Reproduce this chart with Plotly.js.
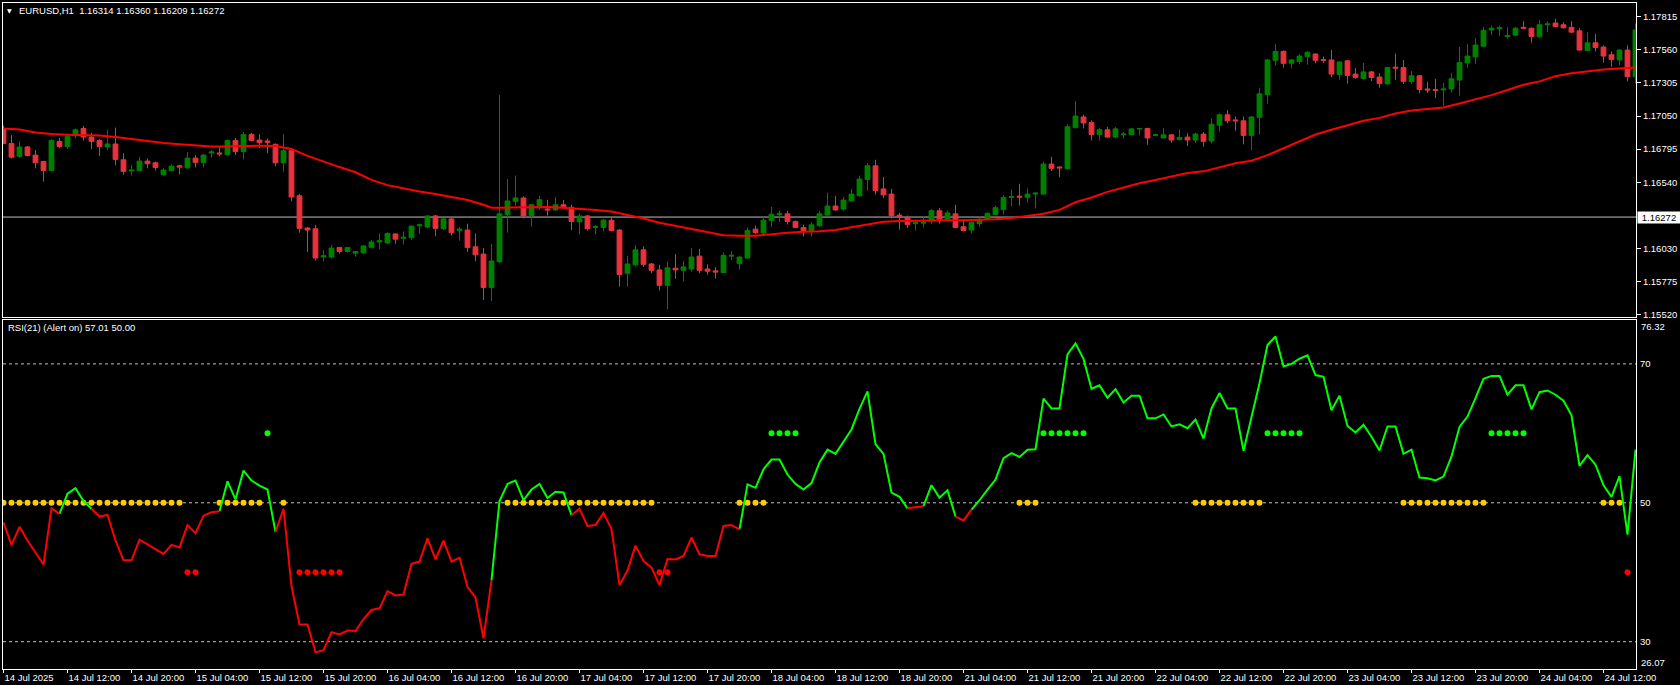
<!DOCTYPE html>
<html><head><meta charset="utf-8">
<script src="https://cdn.plot.ly/plotly-3.0.1.min.js"></script>
<style>html,body{margin:0;padding:0;background:#000;overflow:hidden}#chart{width:1680px;height:685px}</style>
</head><body><div id="chart"></div>
<script>
// ---- data (EURUSD H1, bar 0 = 14 Jul 2025 04:00) ----
const openP = [1.16954,1.16839,1.16740,1.16812,1.16749,1.16700,1.16631,1.16855,1.16815,1.16905,
1.16954,1.16888,1.16862,1.16812,1.16835,1.16713,1.16627,1.16631,1.16703,1.16690,
1.16598,1.16631,1.16667,1.16651,1.16726,1.16693,1.16766,1.16766,1.16753,1.16862,
1.16776,1.16908,1.16865,1.16858,1.16832,1.16690,1.16783,1.16436,1.16188,1.16182,
1.15964,1.15964,1.16037,1.16007,1.15994,1.15997,1.16040,1.16080,1.16073,1.16142,
1.16109,1.16113,1.16205,1.16195,1.16281,1.16182,1.16258,1.16169,1.16172,1.16043,
1.15987,1.15730,1.15928,1.16291,1.16393,1.16419,1.16284,1.16360,1.16334,1.16327,
1.16367,1.16347,1.16235,1.16281,1.16192,1.16192,1.16248,1.16172,1.15839,1.15904,
1.16020,1.15911,1.15865,1.15746,1.15878,1.15862,1.15872,1.15971,1.15872,1.15858,
1.15845,1.15971,1.15914,1.15957,1.16179,1.16149,1.16245,1.16291,1.16297,1.16238,
1.16192,1.16169,1.16205,1.16287,1.16357,1.16334,1.16396,1.16436,1.16561,1.16667,
1.16489,1.16449,1.16287,1.16271,1.16221,1.16225,1.16248,1.16321,1.16258,1.16297,
1.16198,1.16172,1.16221,1.16255,1.16291,1.16330,1.16423,1.16433,1.16423,1.16449,
1.16449,1.16680,1.16657,1.16644,1.16961,1.17043,1.17000,1.16908,1.16944,1.16888,
1.16905,1.16908,1.16951,1.16954,1.16901,1.16881,1.16905,1.16868,1.16888,1.16865,
1.16911,1.16858,1.16980,1.17060,1.17020,1.17013,1.16901,1.17040,1.17215,1.17479,
1.17548,1.17456,1.17469,1.17508,1.17528,1.17485,1.17482,1.17370,1.17475,1.17373,
1.17340,1.17390,1.17350,1.17297,1.17426,1.17423,1.17314,1.17360,1.17258,1.17254,
1.17251,1.17258,1.17327,1.17459,1.17505,1.17588,1.17713,1.17723,1.17663,1.17673,
1.17733,1.17726,1.17660,1.17753,1.17766,1.17753,1.17733,1.17706,1.17555,1.17614,
1.17581,1.17522,1.17482,1.17558,1.17353];
const highP = [1.16977,1.16905,1.16855,1.16819,1.16789,1.16706,1.16872,1.16881,1.16914,1.16954,
1.16974,1.16921,1.16872,1.16944,1.16961,1.16763,1.16674,1.16736,1.16723,1.16700,
1.16651,1.16680,1.16674,1.16773,1.16749,1.16756,1.16789,1.16812,1.16868,1.16881,
1.16927,1.16921,1.16911,1.16878,1.16839,1.16911,1.16796,1.16449,1.16195,1.16212,
1.16020,1.16056,1.16043,1.16043,1.16010,1.16056,1.16096,1.16146,1.16155,1.16146,
1.16162,1.16208,1.16215,1.16284,1.16287,1.16264,1.16264,1.16195,1.16221,1.16146,
1.16033,1.16066,1.17211,1.16565,1.16591,1.16433,1.16373,1.16436,1.16406,1.16426,
1.16403,1.16367,1.16301,1.16287,1.16212,1.16258,1.16274,1.16179,1.15974,1.16056,
1.16047,1.15918,1.15904,1.15931,1.15987,1.15934,1.16033,1.16027,1.15908,1.15885,
1.16000,1.16010,1.15974,1.16192,1.16205,1.16274,1.16350,1.16321,1.16321,1.16245,
1.16215,1.16231,1.16321,1.16459,1.16436,1.16426,1.16489,1.16591,1.16687,1.16713,
1.16581,1.16489,1.16304,1.16284,1.16245,1.16278,1.16334,1.16340,1.16321,1.16367,
1.16255,1.16238,1.16274,1.16307,1.16360,1.16443,1.16482,1.16528,1.16492,1.16466,
1.16700,1.16736,1.16664,1.16987,1.17165,1.17060,1.17017,1.16961,1.16967,1.16964,
1.16927,1.16957,1.16957,1.16961,1.16914,1.16957,1.16911,1.16947,1.16918,1.16921,
1.16927,1.17033,1.17070,1.17096,1.17046,1.17046,1.17050,1.17268,1.17489,1.17604,
1.17555,1.17489,1.17528,1.17548,1.17531,1.17508,1.17558,1.17472,1.17482,1.17419,
1.17459,1.17396,1.17380,1.17429,1.17531,1.17482,1.17396,1.17366,1.17314,1.17337,
1.17304,1.17383,1.17581,1.17604,1.17650,1.17736,1.17749,1.17746,1.17733,1.17736,
1.17782,1.17733,1.17789,1.17779,1.17799,1.17772,1.17782,1.17726,1.17696,1.17683,
1.17594,1.17548,1.17564,1.17594,1.17763];
const lowP = [1.16832,1.16723,1.16730,1.16740,1.16647,1.16545,1.16624,1.16802,1.16796,1.16878,
1.16862,1.16796,1.16743,1.16789,1.16670,1.16598,1.16591,1.16627,1.16647,1.16631,
1.16591,1.16624,1.16601,1.16644,1.16654,1.16654,1.16730,1.16740,1.16749,1.16749,
1.16716,1.16855,1.16805,1.16763,1.16664,1.16624,1.16393,1.16152,1.16004,1.15938,
1.15931,1.15954,1.15990,1.15997,1.15967,1.15990,1.16030,1.16024,1.16063,1.16066,
1.16060,1.16096,1.16142,1.16185,1.16123,1.16172,1.16129,1.16090,1.16004,1.15931,
1.15634,1.15627,1.15918,1.16152,1.16360,1.16261,1.16198,1.16327,1.16284,1.16321,
1.16334,1.16172,1.16139,1.16169,1.16139,1.16162,1.16162,1.15736,1.15736,1.15891,
1.15888,1.15839,1.15707,1.15561,1.15796,1.15776,1.15852,1.15839,1.15829,1.15799,
1.15839,1.15941,1.15868,1.15951,1.16142,1.16142,1.16195,1.16238,1.16215,1.16188,
1.16123,1.16123,1.16195,1.16284,1.16321,1.16321,1.16393,1.16429,1.16476,1.16446,
1.16419,1.16261,1.16175,1.16188,1.16169,1.16192,1.16221,1.16221,1.16248,1.16185,
1.16162,1.16146,1.16195,1.16251,1.16287,1.16291,1.16354,1.16360,1.16383,1.16337,
1.16443,1.16627,1.16578,1.16637,1.16954,1.16954,1.16862,1.16862,1.16881,1.16878,
1.16878,1.16905,1.16901,1.16829,1.16895,1.16878,1.16845,1.16862,1.16819,1.16842,
1.16815,1.16839,1.16931,1.16994,1.16937,1.16832,1.16786,1.16908,1.17145,1.17439,
1.17423,1.17416,1.17449,1.17446,1.17456,1.17459,1.17350,1.17330,1.17300,1.17337,
1.17330,1.17320,1.17268,1.17291,1.17330,1.17297,1.17297,1.17225,1.17228,1.17188,
1.17126,1.17231,1.17208,1.17423,1.17452,1.17581,1.17673,1.17667,1.17647,1.17670,
1.17723,1.17614,1.17654,1.17696,1.17736,1.17723,1.17690,1.17555,1.17548,1.17548,
1.17462,1.17429,1.17442,1.17317,1.17300];
const closeP = [1.16839,1.16733,1.16812,1.16746,1.16690,1.16631,1.16862,1.16815,1.16895,1.16944,
1.16888,1.16855,1.16815,1.16835,1.16716,1.16624,1.16634,1.16703,1.16683,1.16654,
1.16634,1.16664,1.16657,1.16726,1.16693,1.16749,1.16773,1.16759,1.16862,1.16776,
1.16908,1.16862,1.16845,1.16848,1.16690,1.16783,1.16426,1.16185,1.16172,1.15957,
1.15974,1.16033,1.16007,1.16037,1.16007,1.16050,1.16080,1.16090,1.16146,1.16102,
1.16116,1.16202,1.16212,1.16281,1.16185,1.16258,1.16152,1.16179,1.16037,1.15981,
1.15730,1.15934,1.16297,1.16396,1.16419,1.16281,1.16367,1.16406,1.16327,1.16367,
1.16347,1.16238,1.16281,1.16182,1.16198,1.16248,1.16169,1.15829,1.15911,1.16020,
1.15908,1.15862,1.15746,1.15881,1.15865,1.15888,1.15964,1.15862,1.15855,1.15849,
1.15977,1.15977,1.15964,1.16169,1.16152,1.16248,1.16294,1.16297,1.16238,1.16192,
1.16165,1.16212,1.16297,1.16357,1.16327,1.16403,1.16449,1.16565,1.16667,1.16476,
1.16443,1.16284,1.16268,1.16215,1.16228,1.16231,1.16321,1.16255,1.16304,1.16192,
1.16169,1.16231,1.16255,1.16301,1.16344,1.16423,1.16429,1.16426,1.16449,1.16456,
1.16680,1.16647,1.16651,1.16967,1.17050,1.16997,1.16908,1.16944,1.16888,1.16951,
1.16911,1.16951,1.16954,1.16881,1.16905,1.16905,1.16865,1.16885,1.16865,1.16911,
1.16855,1.16987,1.17060,1.17013,1.17013,1.16901,1.17043,1.17221,1.17482,1.17548,
1.17456,1.17482,1.17512,1.17541,1.17479,1.17479,1.17373,1.17466,1.17363,1.17347,
1.17390,1.17347,1.17300,1.17423,1.17419,1.17317,1.17360,1.17254,1.17251,1.17248,
1.17258,1.17337,1.17462,1.17512,1.17597,1.17710,1.17726,1.17730,1.17670,1.17726,
1.17726,1.17663,1.17753,1.17759,1.17739,1.17730,1.17696,1.17558,1.17614,1.17578,
1.17512,1.17485,1.17558,1.17353,1.17713];

// moving average (red line), read at these bars
const maBars = [0,2,4,6,8,10,12,14,16,18,20,22,24,26,28,30,32,34,36,38,40,42,44,46,48,50,52,54,56,58,60,61,62,64,66,68,70,72,74,76,78,80,82,84,86,88,90,92,94,96,98,100,102,104,106,108,110,112,114,116,118,120,122,124,126,128,130,132,134,136,138,140,142,144,146,148,150,152,154,156,158,160,162,164,166,168,170,172,174,176,178,180,182,184,186,188,190,192,194,196,198,200,202,204];
const maVals = [1.16954,1.16947,1.16924,1.16911,1.16905,1.16905,1.16901,1.16888,1.16872,1.16855,1.16842,1.16832,1.16822,1.16815,1.16815,1.16819,1.16822,1.16819,1.16796,1.16743,1.16697,1.16657,1.16617,1.16558,1.16518,1.16492,1.16469,1.16449,1.16426,1.16403,1.16367,1.16344,1.16344,1.16347,1.16350,1.16350,1.16344,1.16337,1.16327,1.16314,1.16287,1.16261,1.16228,1.16205,1.16179,1.16155,1.16132,1.16129,1.16129,1.16139,1.16152,1.16159,1.16162,1.16172,1.16192,1.16215,1.16235,1.16241,1.16245,1.16245,1.16248,1.16248,1.16251,1.16255,1.16264,1.16278,1.16297,1.16327,1.16386,1.16423,1.16466,1.16499,1.16532,1.16558,1.16585,1.16611,1.16624,1.16657,1.16687,1.16706,1.16749,1.16802,1.16855,1.16908,1.16944,1.16977,1.17013,1.17036,1.17069,1.17093,1.17106,1.17116,1.17146,1.17178,1.17211,1.17251,1.17291,1.17317,1.17357,1.17380,1.17396,1.17409,1.17416,1.17423];

// RSI(21)
const rsi = [47.16,43.95,46.54,44.57,42.84,41.11,49.20,48.40,51.30,52.10,
50.25,49.14,48.02,48.27,44.57,41.73,41.73,44.69,44.07,43.33,
42.65,43.95,43.58,46.79,45.62,48.15,48.64,48.77,53.09,50.49,
54.63,53.21,52.47,51.91,45.80,49.14,38.02,32.47,32.47,28.46,
28.77,31.36,31.05,31.60,31.54,33.27,34.57,34.81,37.28,36.67,
36.79,41.23,41.54,44.88,41.85,44.57,41.54,42.10,37.90,36.36,
30.49,38.83,50.25,52.72,53.21,50.37,51.91,52.72,50.68,51.60,
51.48,48.21,49.14,46.67,46.79,48.52,46.23,38.15,40.25,43.83,
41.60,40.68,38.15,41.91,41.85,42.35,45.00,42.59,42.35,42.35,
46.67,46.79,46.17,52.65,52.16,54.81,56.23,56.23,54.07,52.72,
51.91,52.84,55.80,57.65,57.04,58.89,60.56,63.52,66.05,58.46,
57.04,51.48,50.86,49.20,49.38,49.51,52.53,50.74,51.79,48.02,
47.47,49.01,50.37,51.91,53.33,56.42,57.16,56.60,57.65,57.72,
65.00,63.58,63.58,71.36,72.96,70.74,66.42,66.91,65.12,66.36,
64.44,65.43,65.43,62.16,62.16,62.72,60.99,61.30,60.74,61.98,
59.26,63.58,65.80,63.58,63.58,57.47,62.28,67.22,72.72,73.95,
69.63,70.00,70.74,71.23,68.40,68.15,63.33,65.43,61.05,60.12,
61.23,59.51,57.53,60.99,60.99,57.04,57.65,53.64,53.52,53.21,
53.77,56.67,60.93,62.41,65.06,67.84,68.27,68.27,65.56,66.91,
66.91,63.46,65.93,66.17,65.56,64.69,62.59,55.31,56.85,55.49,
52.53,50.86,53.83,45.43,57.65];

// signal dots (bar indices) and their levels
const yellowDots = [0,1,2,3,4,5,6,7,8,9,10,11,12,13,14,15,16,17,18,19,20,21,22,27,28,29,30,31,32,35,63,64,65,66,67,68,69,70,71,72,73,74,75,76,77,78,79,80,81,92,93,94,95,127,128,129,149,150,151,152,153,154,155,156,157,175,176,177,178,179,180,181,182,183,184,185,200,201,202];
const greenDots = [33,96,97,98,99,130,131,132,133,134,135,158,159,160,161,162,186,187,188,189,190];
const redDots = [23,24,37,38,39,40,41,42,82,83,203];
const yellowLevel = 50, greenLevel = 60, redLevel = 40;
const rsiLevels = [70, 50, 30];

const priceTicks = [1.15520,1.15775,1.16030,1.16540,1.16795,1.17050,1.17305,1.17560,1.17815];
const bidPrice = 1.16272;
const timeLabels = ['14 Jul 2025','14 Jul 12:00','14 Jul 20:00','15 Jul 04:00','15 Jul 12:00','15 Jul 20:00','16 Jul 04:00','16 Jul 12:00','16 Jul 20:00','17 Jul 04:00','17 Jul 12:00','17 Jul 20:00','18 Jul 04:00','18 Jul 12:00','18 Jul 20:00','21 Jul 04:00','21 Jul 12:00','21 Jul 20:00','22 Jul 04:00','22 Jul 12:00','22 Jul 20:00','23 Jul 04:00','23 Jul 12:00','23 Jul 20:00','24 Jul 04:00','24 Jul 12:00'];
const barsPerLabel = 8;
const titleText = 'EURUSD,H1\u00a0\u00a01.16314 1.16360 1.16209 1.16272';
const rsiTitle = 'RSI(21) (Alert on) 57.01 50.00';
const rsiMax = 76.32, rsiMin = 26.07;

// ---- build ----
const bars = openP.map((_, i) => i);
const tickBars = timeLabels.map((_, k) => k * barsPerLabel);
const n = rsi.length;
const segGreen = i => rsi[i] >= 50 || rsi[i + 1] >= 50;
const greenY = rsi.map((v, i) => ((i > 0 && segGreen(i - 1)) || (i < n - 1 && segGreen(i))) ? v : null);
const redY = rsi.map((v, i) => ((i > 0 && !segGreen(i - 1)) || (i < n - 1 && !segGreen(i))) ? v : null);

const FONT = 'Liberation Sans, Arial, sans-serif';
const FS = 9.5;
const W = 1680, H = 685;
const M = {l: 3, r: 44, t: 3, b: 16};
const plotW = W - M.l - M.r, plotH = H - M.t - M.b;
const upperBottomPx = 317, lowerTopPx = 320;
const yPaper = px => (H - M.b - px) / plotH;
const xPaper = px => (px - M.l) / plotW;
const xRange = [-0.0625, 204.0625];
const priceRange = [1.155024, 1.179205];

const traces = [
  {type: 'candlestick', x: bars, open: openP, high: highP, low: lowP, close: closeP,
   xaxis: 'x2', yaxis: 'y2', whiskerwidth: 0,
   increasing: {line: {color: '#008000', width: 1}, fillcolor: '#008000'},
   decreasing: {line: {color: '#e8323f', width: 1}, fillcolor: '#e8323f'},
   hoverinfo: 'skip'},
  {type: 'scatter', mode: 'lines', x: maBars, y: maVals, xaxis: 'x2', yaxis: 'y2',
   line: {color: '#ff0000', width: 2}, hoverinfo: 'skip'},
  {type: 'scatter', mode: 'markers', x: yellowDots, y: yellowDots.map(() => yellowLevel),
   marker: {color: '#ffcc00', size: 6}, hoverinfo: 'skip'},
  {type: 'scatter', mode: 'markers', x: greenDots, y: greenDots.map(() => greenLevel),
   marker: {color: '#00ff00', size: 6}, hoverinfo: 'skip'},
  {type: 'scatter', mode: 'markers', x: redDots, y: redDots.map(() => redLevel),
   marker: {color: '#ff0000', size: 6}, hoverinfo: 'skip'},
  {type: 'scatter', mode: 'lines', x: bars, y: greenY, connectgaps: false,
   line: {color: '#00ff00', width: 2}, hoverinfo: 'skip'},
  {type: 'scatter', mode: 'lines', x: bars, y: redY, connectgaps: false,
   line: {color: '#ff0000', width: 2}, hoverinfo: 'skip'}
];

const axFont = {family: FONT, size: FS, color: '#ffffff'};
const shapes = rsiLevels.map(v => ({type: 'line', xref: 'paper', x0: 0, x1: 1, yref: 'y', y0: v, y1: v,
  line: {color: '#c0c0c0', width: 1, dash: '3px,3px'}, layer: 'below'}));
shapes.push({type: 'line', xref: 'paper', x0: 0, x1: 1, yref: 'y2', y0: bidPrice, y1: bidPrice,
  line: {color: '#c0c0c0', width: 1}, layer: 'below'});

const annotations = [
  {xref: 'paper', yref: 'paper', x: xPaper(9.2), y: yPaper(10), xanchor: 'center', yanchor: 'middle',
   text: '\u25BC', showarrow: false, font: {family: 'DejaVu Sans', size: 6, color: '#ffffff'}},
  {xref: 'paper', yref: 'paper', x: xPaper(17), y: yPaper(10.5), xanchor: 'left', yanchor: 'middle',
   text: titleText, showarrow: false, font: axFont},
  {xref: 'paper', yref: 'paper', x: xPaper(6), y: yPaper(327), xanchor: 'left', yanchor: 'middle',
   text: rsiTitle, showarrow: false, font: axFont},
  {xref: 'paper', yref: 'paper', x: xPaper(1639), y: yPaper(326), xanchor: 'left', yanchor: 'middle',
   text: rsiMax.toFixed(2), showarrow: false, font: axFont},
  {xref: 'paper', yref: 'paper', x: xPaper(1639), y: yPaper(662), xanchor: 'left', yanchor: 'middle',
   text: rsiMin.toFixed(2), showarrow: false, font: axFont},
  {xref: 'paper', yref: 'y2', x: xPaper(1637), y: bidPrice, xanchor: 'left', yanchor: 'middle',
   text: bidPrice.toFixed(5), showarrow: false, bgcolor: '#ffffff', width: 40, height: 9, borderpad: 1,
   font: {family: FONT, size: FS, color: '#000000'}}
];

const layout = {
  width: W, height: H, margin: M,
  paper_bgcolor: '#000000', plot_bgcolor: '#000000',
  showlegend: false, hovermode: false, dragmode: false,
  boxgap: 0.4, boxgroupgap: 0,
  xaxis: {domain: [0, 1], anchor: 'y', range: xRange, tickmode: 'array', tickvals: tickBars, ticktext: timeLabels,
          ticks: 'outside', ticklen: 3, tickcolor: '#ffffff', tickfont: axFont, ticklabelposition: 'outside right',
          showline: true, linecolor: '#ffffff', linewidth: 1, mirror: true, showgrid: false, zeroline: false,
          rangeslider: {visible: false}, fixedrange: true},
  xaxis2: {domain: [0, 1], anchor: 'y2', range: xRange, showticklabels: false, ticks: '',
           showline: true, linecolor: '#ffffff', linewidth: 1, mirror: true, showgrid: false, zeroline: false,
           rangeslider: {visible: false}, fixedrange: true},
  yaxis: {domain: [0, yPaper(lowerTopPx)], anchor: 'x', side: 'right', range: [rsiMin, rsiMax],
          tickmode: 'array', tickvals: rsiLevels, ticks: 'outside', ticklen: 1, tickcolor: 'rgba(0,0,0,0)',
          tickfont: axFont, showline: true, linecolor: '#ffffff', linewidth: 1, mirror: true,
          showgrid: false, zeroline: false, fixedrange: true},
  yaxis2: {domain: [yPaper(upperBottomPx), 1], anchor: 'x2', side: 'right', range: priceRange,
           tickmode: 'array', tickvals: priceTicks, ticktext: priceTicks.map(v => v.toFixed(5)),
           ticks: 'outside', ticklen: 4, tickcolor: '#ffffff', tickfont: axFont,
           showline: true, linecolor: '#ffffff', linewidth: 1, mirror: true,
           showgrid: false, zeroline: false, fixedrange: true},
  shapes: shapes,
  annotations: annotations
};

Plotly.newPlot('chart', traces, layout, {staticPlot: true, displayModeBar: false});
</script>
</body></html>
